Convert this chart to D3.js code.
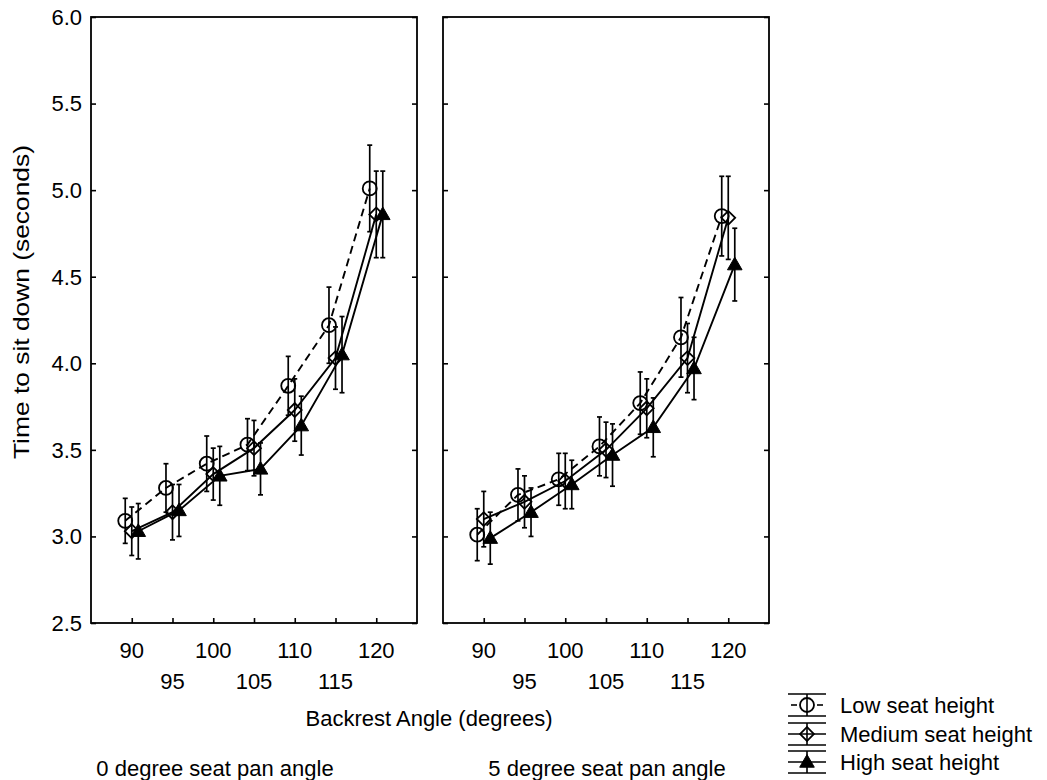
<!DOCTYPE html>
<html>
<head>
<meta charset="utf-8">
<script src="https://cdn.jsdelivr.net/npm/d3@7"></script>
<style>
  html, body { margin: 0; padding: 0; background: #fff; }
  svg { display: block; }
  text { font-family: "Liberation Sans", Arial, sans-serif; fill: #000; }
</style>
</head>
<body>
<svg id="chart" width="1047" height="780"></svg>
<script>
// Backrest angles (x categories) and y-axis ticks
const angles = [90, 95, 100, 105, 110, 115, 120];
const yTicks = [2.5, 3.0, 3.5, 4.0, 4.5, 5.0, 5.5, 6.0];

// Mean time to sit down (s) and error-bar half widths, 0 degree seat pan
const low0 = [3.09, 3.28, 3.42, 3.53, 3.87, 4.22, 5.01];
const lowErr0 = [0.13, 0.14, 0.16, 0.15, 0.17, 0.22, 0.25];
const med0 = [3.03, 3.14, 3.36, 3.51, 3.73, 4.03, 4.86];
const medErr0 = [0.14, 0.16, 0.15, 0.16, 0.18, 0.18, 0.25];
const high0 = [3.03, 3.15, 3.35, 3.39, 3.64, 4.05, 4.86];
const highErr0 = [0.16, 0.15, 0.17, 0.15, 0.17, 0.22, 0.25];

// Same measures, 5 degree seat pan
const low5 = [3.01, 3.24, 3.33, 3.52, 3.77, 4.15, 4.85];
const lowErr5 = [0.15, 0.15, 0.15, 0.17, 0.18, 0.23, 0.23];
const med5 = [3.10, 3.20, 3.32, 3.50, 3.74, 4.03, 4.84];
const medErr5 = [0.16, 0.15, 0.16, 0.16, 0.17, 0.20, 0.24];
const high5 = [2.99, 3.14, 3.30, 3.47, 3.63, 3.97, 4.57];
const highErr5 = [0.15, 0.14, 0.14, 0.18, 0.17, 0.18, 0.21];

const panelTitles = ["0 degree seat pan angle", "5 degree seat pan angle"];
const seriesNames = ["Low seat height", "Medium seat height", "High seat height"];
const xTitle = "Backrest Angle (degrees)";
const yTitle = "Time to sit down (seconds)";

// ---- layout ----
const svg = d3.select("#chart");
const yTop = 17, yBottom = 623;
const panelX = [[91, 417], [443, 769]];
const captionX = [215, 607];
const dodge = [-0.8, 0, 0.8];          // horizontal offset per series, in degrees
const fontSize = 22;

const y = d3.scaleLinear().domain([2.5, 6.0]).range([yBottom, yTop]);

const panels = [
  { title: panelTitles[0], series: [[low0, lowErr0], [med0, medErr0], [high0, highErr0]] },
  { title: panelTitles[1], series: [[low5, lowErr5], [med5, medErr5], [high5, highErr5]] }
];

const symCircle = d3.symbol().type(d3.symbolCircle).size(Math.PI * 7 * 7);
const symDiamond = d3.symbol().type(d3.symbolSquare).size(96);
const symTriangle = d3.symbol().type(d3.symbolTriangle).size(92);

function drawMarker(g, k, cx, cy) {
  if (k === 0) {
    g.append("path").attr("d", symCircle()).attr("transform", `translate(${cx},${cy})`)
      .attr("fill", "none").attr("stroke", "#000").attr("stroke-width", 1.8);
  } else if (k === 1) {
    g.append("path").attr("d", symDiamond()).attr("transform", `translate(${cx},${cy}) rotate(45)`)
      .attr("fill", "none").attr("stroke", "#000").attr("stroke-width", 1.8);
  } else {
    g.append("path").attr("d", symTriangle()).attr("transform", `translate(${cx},${cy + 1})`)
      .attr("fill", "#000").attr("stroke", "#000").attr("stroke-width", 1);
  }
}

panels.forEach((p, pi) => {
  const [x0, x1] = panelX[pi];
  const x = d3.scaleLinear().domain([85, 125]).range([x0, x1]);
  const g = svg.append("g");

  // ticks inside the frame
  const bAxis = g.append("g").attr("transform", `translate(0,${yBottom})`)
    .call(d3.axisBottom(x).tickValues(angles).tickSize(-5).tickFormat(""));
  const lAxis = g.append("g").attr("transform", `translate(${x0},0)`)
    .call(d3.axisLeft(y).tickValues(yTicks).tickSize(-5).tickFormat(""));
  const rAxis = g.append("g").attr("transform", `translate(${x1},0)`)
    .call(d3.axisRight(y).tickValues(yTicks).tickSize(-5).tickFormat(""));
  [bAxis, lAxis, rAxis].forEach(a => {
    a.select(".domain").remove();
    a.selectAll("line").attr("stroke", "#000").attr("stroke-width", 1.6);
  });

  // frame
  g.append("rect").attr("x", x0).attr("y", yTop).attr("width", x1 - x0).attr("height", yBottom - yTop)
    .attr("fill", "none").attr("stroke", "#000").attr("stroke-width", 1.8);

  // staggered angle labels
  g.selectAll(".xl").data(angles).join("text")
    .attr("x", d => x(d)).attr("y", (d, i) => i % 2 === 0 ? 658 : 689)
    .attr("text-anchor", "middle").attr("font-size", fontSize).text(d => d);

  // panel caption
  g.append("text").attr("x", captionX[pi]).attr("y", 776).attr("text-anchor", "middle")
    .attr("font-size", fontSize).text(p.title);

  // series: connecting lines, error bars, markers
  p.series.forEach(([vals, errs], k) => {
    const xs = i => x(angles[i] + dodge[k]);
    const line = d3.line().x((d, i) => xs(i)).y(d => y(d));
    g.append("path").datum(vals).attr("d", line).attr("fill", "none")
      .attr("stroke", "#000").attr("stroke-width", 1.9)
      .attr("stroke-dasharray", k === 0 ? "8,5" : null);

    vals.forEach((v, i) => {
      const cx = xs(i), e = errs[i];
      const eb = g.append("g").attr("stroke", "#000").attr("stroke-width", 1.7);
      eb.append("line").attr("x1", cx).attr("x2", cx).attr("y1", y(v - e)).attr("y2", y(v + e));
      eb.append("line").attr("x1", cx - 2.5).attr("x2", cx + 2.5).attr("y1", y(v + e)).attr("y2", y(v + e));
      eb.append("line").attr("x1", cx - 2.5).attr("x2", cx + 2.5).attr("y1", y(v - e)).attr("y2", y(v - e));
      drawMarker(g, k, cx, y(v));
    });
  });
});

// y tick labels on the left panel
svg.append("g").selectAll("text").data(yTicks).join("text")
  .attr("x", 82).attr("y", d => y(d)).attr("dy", "0.36em").attr("text-anchor", "end")
  .attr("font-size", fontSize).text(d => d.toFixed(1));

// axis titles
svg.append("text").attr("transform", "translate(29,302) rotate(-90)")
  .attr("text-anchor", "middle").attr("font-size", fontSize)
  .attr("textLength", 314).attr("lengthAdjust", "spacingAndGlyphs").text(yTitle);
svg.append("text").attr("x", 429).attr("y", 726).attr("text-anchor", "middle")
  .attr("font-size", fontSize).text(xTitle);

// legend
const legendRows = [705, 734, 762];
const lx0 = 788, lx1 = 826, lcx = (lx0 + lx1) / 2;
const lg = svg.append("g");
seriesNames.forEach((name, k) => {
  const cy = legendRows[k];
  const s = lg.append("g").attr("stroke", "#000").attr("stroke-width", 1.6);
  s.append("line").attr("x1", lx0).attr("x2", lx1).attr("y1", cy - 11).attr("y2", cy - 11);
  s.append("line").attr("x1", lx0).attr("x2", lx1).attr("y1", cy + 11).attr("y2", cy + 11);
  s.append("line").attr("x1", lcx).attr("x2", lcx).attr("y1", cy - 11).attr("y2", cy + 11);
  if (k === 0) {
    s.append("line").attr("x1", lx0 + 3).attr("x2", lx0 + 9).attr("y1", cy).attr("y2", cy);
    s.append("line").attr("x1", lx1 - 9).attr("x2", lx1 - 3).attr("y1", cy).attr("y2", cy);
  } else {
    s.append("line").attr("x1", lx0).attr("x2", lx1).attr("y1", cy).attr("y2", cy);
  }
  drawMarker(lg, k, lcx, cy);
  lg.append("text").attr("x", 840).attr("y", cy).attr("dy", "0.36em")
    .attr("font-size", fontSize).text(name);
});
</script>
</body>
</html>
